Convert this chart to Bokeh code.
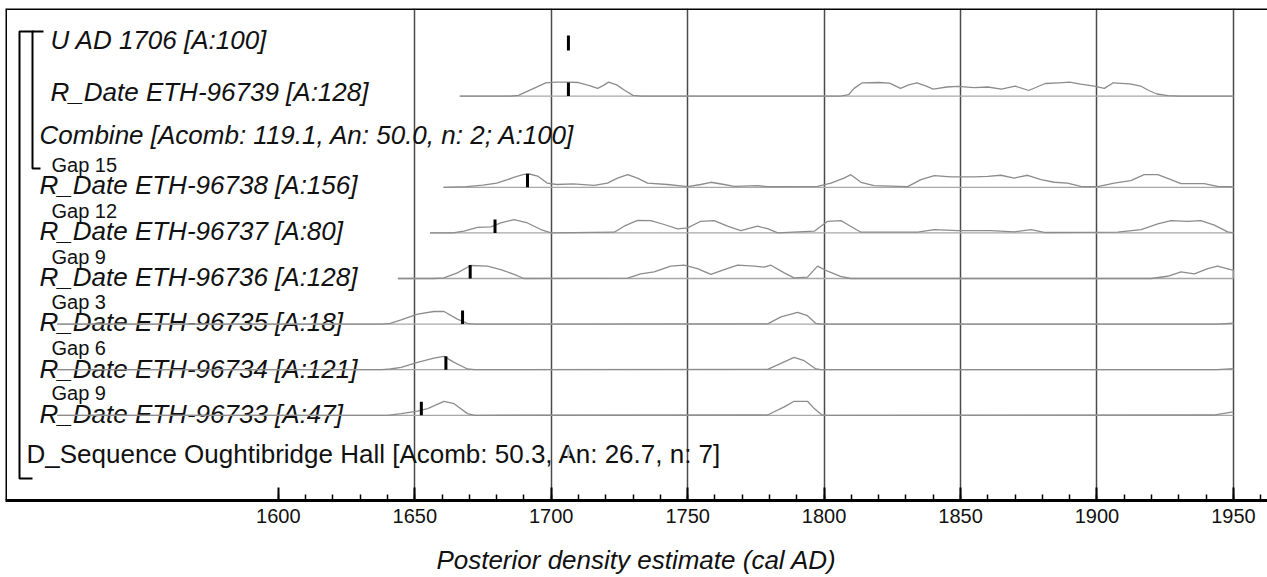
from bokeh.plotting import figure
from bokeh.models import Range1d, FixedTicker, Span, ColumnDataSource
from bokeh.core.properties import value
from bokeh.embed import file_html
from bokeh.resources import INLINE

# ------------------------------------------------------------------ data
row_labels = [
    "U AD 1706 [A:100]",
    "R_Date ETH-96739 [A:128]",
    "Combine [Acomb: 119.1, An: 50.0, n: 2; A:100]",
    "R_Date ETH-96738 [A:156]",
    "R_Date ETH-96737 [A:80]",
    "R_Date ETH-96736 [A:128]",
    "R_Date ETH-96735 [A:18]",
    "R_Date ETH-96734 [A:121]",
    "R_Date ETH-96733 [A:47]",
    "D_Sequence Oughtibridge Hall [Acomb:  50.3, An: 26.7, n: 7]",
]
gap_labels = ["Gap 15", "Gap 12", "Gap 9", "Gap 3", "Gap 6", "Gap 9"]   # rows 3..8
gap_rows = [3, 4, 5, 6, 7, 8]

# median marks (cal AD) for rows 0,1,3..8
mark_rows = [0, 1, 3, 4, 5, 6, 7, 8]
mark_years = [1706.3, 1706.3, 1691.3, 1679.4, 1670.3, 1667.5, 1661.4, 1652.4]

tick_years = [1600, 1650, 1700, 1750, 1800, 1850, 1900, 1950]
minor_years = list(range(1600, 1961, 10))
grid_years = [1650, 1700, 1750, 1800, 1850, 1900, 1950]

# posterior densities (relative, 0..1)
eth96739_yr = [1666.5, 1685, 1688, 1693, 1698, 1702, 1706, 1710, 1714, 1717, 1719, 1721, 1724, 1727, 1730, 1733,
               1806, 1809, 1811, 1814, 1820, 1824, 1828, 1831, 1834, 1837, 1840, 1845, 1849, 1855, 1860, 1865,
               1870, 1875, 1878, 1881, 1886, 1890, 1894, 1899, 1902.7, 1906, 1912, 1916, 1919, 1922, 1926, 1930, 1950]
eth96739_p = [0, 0, 0.05, 0.5, 0.95, 1.0, 1.0, 0.97, 0.75, 0.55, 0.75, 1.0, 0.8, 0.4, 0.05, 0,
              0, 0.1, 0.55, 0.95, 0.97, 0.93, 0.55, 0.8, 0.95, 0.75, 0.5, 0.65, 0.7, 0.6, 0.65, 0.5,
              0.72, 0.4, 0.65, 0.9, 0.95, 1.0, 0.85, 0.72, 0.55, 0.95, 0.88, 0.72, 0.4, 0.15, 0.03, 0, 0]

eth96738_yr = [1660.5, 1669, 1675, 1680, 1684, 1686.5, 1690, 1692, 1695, 1698.5, 1702, 1708, 1715.7, 1720.6,
               1724.3, 1728, 1731.6, 1735.3, 1742.6, 1750, 1754.8, 1758.5, 1763.4, 1767, 1775.6, 1779.3,
               1797.6, 1802.5, 1807.3, 1809.8, 1813.5, 1818.3, 1830.6, 1835.5, 1840.4, 1846.5, 1855, 1860,
               1864.8, 1869.7, 1874.6, 1879.5, 1884.4, 1889.2, 1894.1, 1900.3, 1906.3, 1912.4, 1917.3,
               1922.3, 1927.1, 1930.8, 1935.7, 1939.3, 1944.2, 1949, 1950]
eth96738_p = [0, 0.05, 0.15, 0.3, 0.55, 0.72, 0.92, 0.95, 0.8, 0.3, 0.2, 0.24, 0.14, 0.3,
              0.66, 0.9, 0.66, 0.3, 0.2, 0.05, 0.2, 0.36, 0.2, 0.07, 0.12, 0.05,
              0.07, 0.3, 0.66, 0.9, 0.36, 0.12, 0.05, 0.55, 0.83, 0.74, 0.74, 0.78,
              0.86, 0.66, 0.86, 0.55, 0.36, 0.3, 0.07, 0.05, 0.3, 0.48, 0.9,
              0.9, 0.55, 0.26, 0.26, 0.26, 0.07, 0.05, 0]

eth96737_yr = [1655.6, 1664, 1668, 1673, 1677.9, 1681.5, 1686.4, 1691.3, 1696.2, 1699.9, 1723.1, 1726.7,
               1731.6, 1736.5, 1741.4, 1746.3, 1750, 1754.8, 1759.7, 1764.6, 1769.5, 1775.6, 1779.3, 1783,
               1796.4, 1801.3, 1806.2, 1808.6, 1813.5, 1834.3, 1840.4, 1848.9, 1861.1, 1869.7, 1875.8,
               1880.7, 1907.6, 1916.2, 1922.3, 1927.1, 1933.2, 1938.1, 1943, 1947.9, 1950]
eth96737_p = [0, 0, 0.12, 0.4, 0.43, 0.71, 0.95, 0.71, 0.24, 0, 0.05, 0.48,
              0.9, 0.88, 0.6, 0.29, 0.36, 0.83, 0.88, 0.48, 0.16, 0.48, 0.3, 0,
              0.12, 0.83, 0.88, 0.6, 0.05, 0.05, 0.24, 0.16, 0.16, 0.07, 0.24,
              0.03, 0.05, 0.24, 0.64, 0.88, 0.83, 0.88, 0.55, 0.07, 0]

eth96736_yr = [1643.8, 1657, 1660.7, 1665.6, 1670.5, 1676.6, 1681.5, 1686.4, 1690, 1728, 1732.8, 1737.7,
               1743.8, 1748.7, 1753.6, 1758.5, 1763.4, 1768.3, 1774.4, 1778, 1780.5, 1785.4, 1789, 1793.9,
               1797.6, 1801.3, 1806, 1809.8, 1919.8, 1925.9, 1930.8, 1935.7, 1940.6, 1944.2, 1949, 1950, 1950]
eth96736_p = [0, 0, 0.05, 0.4, 0.93, 0.88, 0.64, 0.29, 0, 0.02, 0.33, 0.48,
              0.88, 0.95, 0.71, 0.29, 0.64, 0.95, 0.88, 0.81, 0.95, 0.4, 0.05, 0.1,
              0.88, 0.52, 0.15, 0, 0, 0.16, 0.48, 0.33, 0.71, 0.88, 0.64, 0.6, 0]

eth96735_yr = [1519, 1638, 1641, 1645, 1651, 1657, 1660.7, 1665.6, 1669.3, 1672, 1779.3, 1784.2, 1790.3,
               1793.9, 1797, 1799, 1944, 1950]
eth96735_p = [0, 0, 0.05, 0.3, 0.72, 0.9, 0.9, 0.36, 0.05, 0, 0.02, 0.52, 0.84,
              0.6, 0.05, 0, 0, 0.07]

eth96734_yr = [1519, 1638, 1641, 1645, 1651, 1657, 1660.7, 1664.4, 1669.3, 1672, 1779.3, 1784.2, 1789,
               1792.7, 1797, 1799, 1944, 1950]
eth96734_p = [0, 0, 0.05, 0.16, 0.52, 0.83, 0.95, 0.52, 0.05, 0, 0.02, 0.45, 0.88,
              0.64, 0.05, 0, 0, 0.07]

eth96733_yr = [1519, 1640, 1645, 1651, 1654.7, 1660.7, 1664.4, 1669.3, 1672, 1779.3, 1785.4, 1789,
               1793.9, 1796.4, 1799, 1801, 1942.6, 1950]
eth96733_p = [0, 0, 0.12, 0.3, 0.48, 1.0, 0.83, 0.12, 0, 0.02, 0.6, 1.0,
              1.0, 0.48, 0.05, 0, 0.02, 0.24]

densities = [
    (1, eth96739_yr, eth96739_p),
    (3, eth96738_yr, eth96738_p),
    (4, eth96737_yr, eth96737_p),
    (5, eth96736_yr, eth96736_p),
    (6, eth96735_yr, eth96735_p),
    (7, eth96734_yr, eth96734_p),
    (8, eth96733_yr, eth96733_p),
]

# ------------------------------------------------------------------ layout
W, H = 1267, 577
FL, FT, FB = 5, 8, 500           # frame left / top / bottom pixel
X0, X1 = 1500.0, 1962.5
PITCH = 45.6                      # px per row
ROW0 = 50                         # pixel of row 0 baseline
y_top = -(ROW0 - FT) / PITCH
y_bot = (FB - ROW0) / PITCH
PXY = (W - FL) / (X1 - X0)        # px per year
AMP = 14 / PITCH                  # max density height in rows


def xp(px):
    return X0 + (px - FL) / PXY


def yp(py):
    return (py - ROW0) / PITCH


FONT = "Liberation Sans"

p = figure(width=W, height=H, x_range=Range1d(X0, X1), y_range=Range1d(y_bot, y_top),
           output_backend="svg", toolbar_location=None, y_axis_location=None,
           min_border_left=FL, min_border_right=0, min_border_top=FT, min_border_bottom=H - FB)
p.outline_line_color = None
p.background_fill_color = "white"
p.border_fill_color = "white"
p.ygrid.visible = False
p.xgrid.ticker = FixedTicker(ticks=grid_years)
p.xgrid.grid_line_color = "#4a4a4a"
p.xgrid.grid_line_width = 1.5

ax = p.xaxis[0]
ax.ticker = FixedTicker(ticks=tick_years, minor_ticks=minor_years)
ax.axis_line_width = 3
ax.axis_line_color = "black"
ax.major_tick_in = 13
ax.major_tick_out = 0
ax.minor_tick_in = 6
ax.minor_tick_out = 0
ax.major_tick_line_width = 2
ax.minor_tick_line_width = 1.5
ax.major_tick_line_color = "black"
ax.minor_tick_line_color = "black"
ax.major_label_text_font = FONT
ax.major_label_text_font_size = "20px"
ax.major_label_text_color = "#111111"
ax.major_label_standoff = 8
ax.axis_label = "Posterior density estimate (cal AD)"
ax.axis_label_text_font = FONT
ax.axis_label_text_font_size = "26px"
ax.axis_label_text_font_style = "italic"
ax.axis_label_text_color = "#111111"
ax.axis_label_standoff = 19

# frame top / left
p.add_layout(Span(location=y_top, dimension="width", line_color="black", line_width=3))
p.add_layout(Span(location=X0, dimension="height", line_color="black", line_width=3))

# labels
label_left_px = [50, 50, 39, 39, 39, 39, 39, 39, 39, 26]
label_dy_px = [-11, -4, -7, -2, -2, -2, -2, -1, -1, -7]
ital = ColumnDataSource(dict(
    x=[X0] * 9, y=list(range(9)), text=row_labels[:9],
    xo=[v - FL for v in label_left_px[:9]], yo=label_dy_px[:9]))
p.text(x="x", y="y", text="text", x_offset="xo", y_offset="yo", source=ital,
       text_font=value(FONT), text_font_size="26px", text_font_style="italic",
       text_baseline="alphabetic", text_align="left", text_color="#111111")
p.text(x=[X0], y=[9], text=[row_labels[9]], x_offset=label_left_px[9] - FL, y_offset=label_dy_px[9],
       text_font=value(FONT), text_font_size="26px", text_baseline="alphabetic",
       text_align="left", text_color="#111111")
p.text(x=[X0] * len(gap_labels), y=gap_rows, text=gap_labels, x_offset=51 - FL, y_offset=-22,
       text_font=value(FONT), text_font_size="20px", text_baseline="alphabetic",
       text_align="left", text_color="#111111")

# densities
for row, yrs, dens in densities:
    p.line([yrs[0], yrs[-1]], [row, row], line_color="#a8a8a8", line_width=1.3)
    p.line(yrs, [row - AMP * d for d in dens], line_color="#8c8c8c", line_width=1.3,
           line_join="round")

# median marks
p.segment(x0=mark_years, y0=mark_rows, x1=mark_years,
          y1=[r - (15 if r == 0 else 13.5) / PITCH for r in mark_rows],
          line_color="black", line_width=3)
# faint D_Sequence marker
p.segment(x0=[mark_years[0]], y0=[9 - 3 / PITCH], x1=[mark_years[0]], y1=[9 - 14 / PITCH],
          line_color="#c8c8c8", line_width=2)

# brackets
p.multi_line(
    xs=[[xp(33), xp(19), xp(19), xp(32)], [xp(43), xp(32), xp(32), xp(40)]],
    ys=[[yp(31), yp(31), yp(478), yp(478)], [yp(31), yp(31), yp(168), yp(168)]],
    line_color="black", line_width=2)

open("out.html", "w").write(file_html(p, INLINE))
